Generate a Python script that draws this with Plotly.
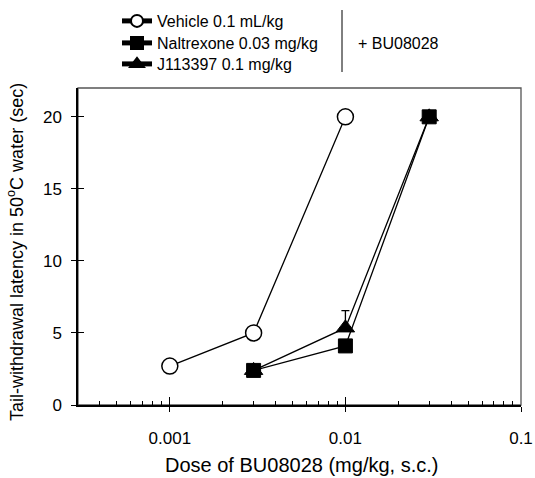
import plotly.graph_objects as go

# ---- data ----
dose_vehicle = [0.001, 0.003, 0.01]
lat_vehicle = [2.7, 5.0, 20.0]

dose_nal = [0.003, 0.01, 0.03]
lat_nal = [2.4, 4.1, 20.0]

dose_j = [0.003, 0.01, 0.03]
lat_j = [2.4, 5.35, 20.0]
err_j = [0.0, 1.2, 0.0]

x_major = [0.001, 0.01, 0.1]
x_major_text = ["0.001", "0.01", "0.1"]
x_minor = [0.0003, 0.0004, 0.0005, 0.0006, 0.0007, 0.0008, 0.0009,
           0.002, 0.003, 0.004, 0.005, 0.006, 0.007, 0.008, 0.009,
           0.02, 0.03, 0.04, 0.05, 0.06, 0.07, 0.08, 0.09]
y_ticks = [0, 5, 10, 15, 20]

FONT = "Liberation Sans, Arial, sans-serif"
W, H = 535, 478
ML, MR, MT, MB = 78, 14, 88, 73
PW, PH = W - ML - MR, H - MT - MB

fig = go.Figure()

fig.add_trace(go.Scatter(
    x=dose_vehicle, y=lat_vehicle, mode="lines+markers",
    name="Vehicle 0.1 mL/kg", legend="legend",
    line=dict(color="black", width=1.3),
    marker=dict(symbol="circle", size=16, color="white",
                line=dict(color="black", width=1.5)),
))
fig.add_trace(go.Scatter(
    x=dose_j, y=lat_j, mode="lines+markers",
    name="J113397 0.1 mg/kg", legend="legend3",
    line=dict(color="black", width=1.3),
    marker=dict(symbol="triangle-up", size=16, color="black",
                line=dict(color="black", width=1)),
    error_y=dict(type="data", symmetric=False, array=err_j,
                 arrayminus=[0, 0, 0], color="black", thickness=1.3, width=4),
))
fig.add_trace(go.Scatter(
    x=dose_nal, y=lat_nal, mode="lines+markers",
    name="Naltrexone 0.03 mg/kg", legend="legend2",
    line=dict(color="black", width=1.3),
    marker=dict(symbol="square", size=14, color="black",
                line=dict(color="black", width=1)),
))

xr = [-3.5229, -1]
yr = [0, 22]


def leg(ypix):
    return dict(xref="container", yref="container",
                x=117 / W, y=1 - ypix / H, xanchor="left", yanchor="middle",
                font=dict(size=16, family=FONT), itemsizing="constant",
                bgcolor="rgba(0,0,0,0)", borderwidth=0)


fig.update_layout(
    width=W, height=H,
    margin=dict(l=ML, r=MR, t=MT, b=MB, autoexpand=False),
    paper_bgcolor="white", plot_bgcolor="white",
    font=dict(family=FONT, color="black", size=16),
    xaxis=dict(
        type="log", range=xr, tickvals=x_major, ticktext=x_major_text,
        ticks="outside", ticklen=5, tickwidth=1.3, tickcolor="black",
        showline=True, linecolor="black", linewidth=1.5,
        showgrid=False, zeroline=False,
        tickfont=dict(size=17), ticklabelstandoff=12,
    ),
    xaxis2=dict(
        type="log", range=xr, overlaying="x", side="bottom",
        tickvals=x_major, ticks="inside", ticklen=8, tickwidth=1.3,
        tickcolor="black", showticklabels=False, showgrid=False,
        zeroline=False, showline=False,
        minor=dict(tickvals=x_minor, ticks="inside", ticklen=4,
                   tickwidth=1.2, tickcolor="black", showgrid=False),
    ),
    yaxis=dict(
        range=yr, tickvals=y_ticks,
        ticks="outside", ticklen=5, tickwidth=1.3, tickcolor="black",
        showline=True, linecolor="black", linewidth=1.5,
        showgrid=False, zeroline=False,
        tickfont=dict(size=17), ticklabelstandoff=6,
    ),
    yaxis2=dict(
        range=yr, overlaying="y", side="left",
        tickvals=y_ticks, ticks="inside", ticklen=6, tickwidth=1.3,
        tickcolor="black", showticklabels=False, showgrid=False,
        zeroline=False, showline=False,
    ),
    legend=leg(21),
    legend2=leg(43),
    legend3=leg(64),
    showlegend=True,
)

# invisible trace to activate overlay axes (ticks only)
fig.add_trace(go.Scatter(x=[0.001], y=[0], xaxis="x2", yaxis="y2",
                         mode="markers", marker=dict(opacity=0),
                         showlegend=False, hoverinfo="skip"))

# frame (top/right gray lines)
fig.add_shape(type="rect", xref="paper", yref="paper", x0=0, x1=1, y0=0, y1=1,
              line=dict(color="#555555", width=1.3), layer="below")

# axis titles
fig.add_annotation(text="Dose of BU08028 (mg/kg, s.c.)", xref="paper", yref="paper",
                   x=(301 - ML) / PW, y=(H - MB - 465) / PH,
                   xanchor="center", yanchor="middle", showarrow=False,
                   font=dict(size=20))
fig.add_annotation(text="Tail-withdrawal latency in 50<sup>o</sup>C water (sec)",
                   xref="paper", yref="paper", textangle=-90,
                   x=(15 - ML) / PW, y=(H - MB - 252) / PH,
                   xanchor="center", yanchor="middle", showarrow=False,
                   font=dict(size=18))

# separator and "+ BU08028" text
fig.add_shape(type="line", xref="paper", yref="paper",
              x0=(342 - ML) / PW, x1=(342 - ML) / PW,
              y0=(H - MB - 72) / PH, y1=(H - MB - 10) / PH,
              line=dict(color="black", width=1))
fig.add_annotation(text="+ BU08028", xref="paper", yref="paper",
                   x=(356 - ML) / PW, y=(H - MB - 43) / PH,
                   xanchor="left", yanchor="middle", showarrow=False,
                   font=dict(size=16))

fig.write_html("out.html", config={"displayModeBar": False},
               post_script="document.body.style.margin='0';document.body.style.overflow='hidden';")
